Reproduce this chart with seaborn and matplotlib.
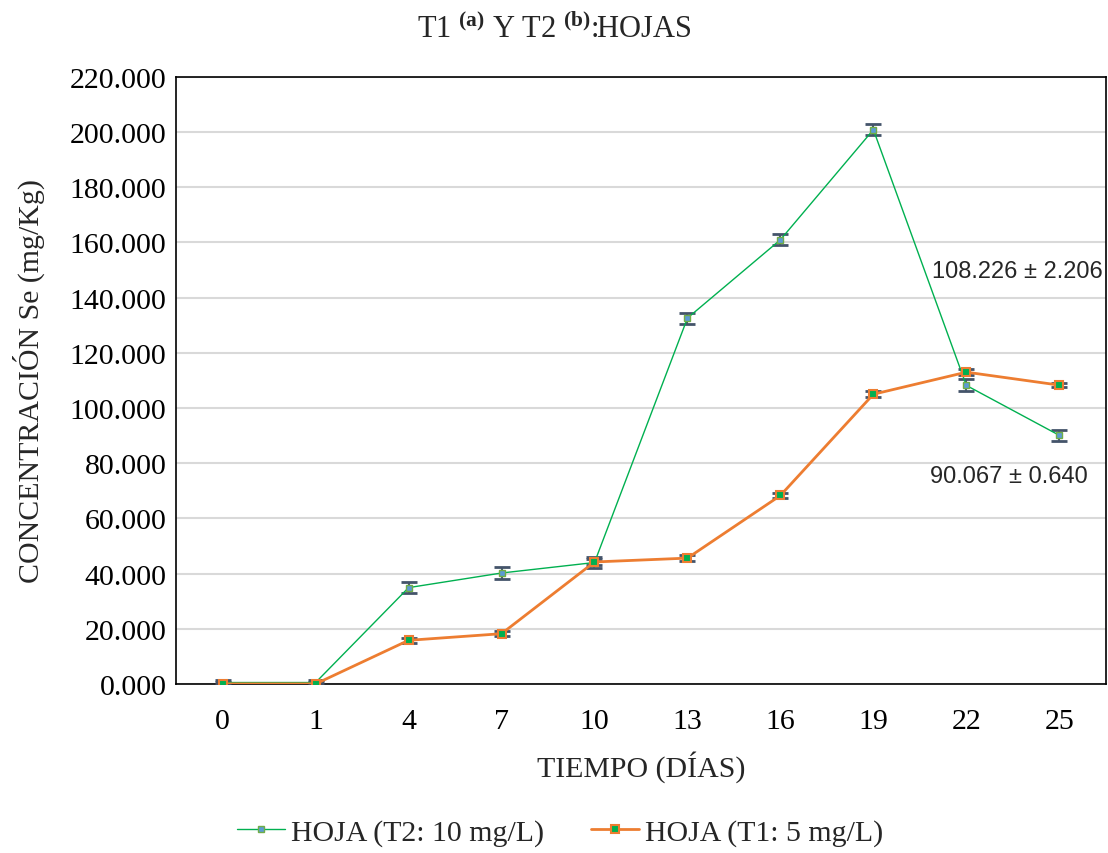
import matplotlib
matplotlib.use("Agg")
import matplotlib.pyplot as plt
import seaborn as sns
import pandas as pd
import numpy as np
from matplotlib.ticker import FuncFormatter, MultipleLocator

days = ["0", "1", "4", "7", "10", "13", "16", "19", "22", "25"]
t2_values = [0.5, 0.5, 34.9, 40.2, 44.0, 132.6, 161.0, 200.9, 108.2, 90.1]
t2_err = [1.0, 1.0, 2.0, 2.0, 2.0, 2.0, 2.0, 2.0, 2.2, 2.0]
t1_values = [0.0, 0.0, 15.8, 18.2, 44.2, 45.6, 68.3, 105.0, 113.0, 108.3]
t1_err = [0.6, 0.6, 1.0, 1.0, 1.0, 1.0, 1.0, 1.0, 1.2, 0.8]
label_t2 = "HOJA (T2: 10 mg/L)"
label_t1 = "HOJA (T1: 5 mg/L)"
annot_1 = "108.226 ± 2.206"
annot_2 = "90.067 ± 0.640"

sns.set_theme(style="white")
plt.rcParams["font.family"] = ["Liberation Serif", "DejaVu Serif"]
plt.rcParams["mathtext.fontset"] = "custom"
plt.rcParams["mathtext.rm"] = "Liberation Serif"
plt.rcParams["mathtext.bf"] = "Liberation Serif:bold"

df = pd.DataFrame({
    "day": days * 2,
    "value": t2_values + t1_values,
    "series": [label_t2] * len(days) + [label_t1] * len(days),
})

fig = plt.figure(figsize=(11.08, 8.54), dpi=100)
ax = fig.add_axes([0.159, 0.198, 0.839, 0.7107])

green = "#00B050"
orange = "#ED7D31"
errc = "#44546A"

x = np.arange(len(days))
ax.errorbar(x, t2_values, yerr=t2_err, fmt="none", ecolor=errc, elinewidth=1.5,
            capsize=6, capthick=2, zorder=3)
ax.errorbar(x, t1_values, yerr=t1_err, fmt="none", ecolor=errc, elinewidth=1.5,
            capsize=6, capthick=2, zorder=3)

sns.lineplot(data=df[df.series == label_t2], x="day", y="value", ax=ax, sort=False,
             color=green, linewidth=1.0, marker="s", markersize=5,
             markerfacecolor="#5B9BD5", markeredgecolor="#70AD47", markeredgewidth=1,
             label=label_t2, zorder=4)
sns.lineplot(data=df[df.series == label_t1], x="day", y="value", ax=ax, sort=False,
             color=orange, linewidth=2.0, marker="s", markersize=6,
             markerfacecolor="#00B050", markeredgecolor=orange, markeredgewidth=1.5,
             label=label_t1, zorder=4)

ax.set_xlim(-0.5, len(days) - 0.5)
ax.set_ylim(0, 220)
ax.yaxis.set_major_locator(MultipleLocator(20))
ax.yaxis.set_major_formatter(FuncFormatter(lambda v, p: f"{v:.3f}"))
ax.grid(axis="y", color="#D9D9D9", linewidth=1.5)
ax.set_axisbelow(True)
for s in ax.spines.values():
    s.set_color("black")
    s.set_linewidth(1.2)
ax.tick_params(axis="both", labelsize=21.5, length=0, colors="black")
ax.tick_params(axis="y", pad=7)
ax.tick_params(axis="x", pad=17)
ax.set_xlabel("TIEMPO (DÍAS)", fontsize=21.5, labelpad=12)
ax.set_ylabel("CONCENTRACIÓN Se (mg/Kg)", fontsize=21.5, labelpad=18)

fig.text(0.5, 0.966, r"T1 $^{\mathbf{(a)}}$ Y T2 $^{\mathbf{(b)}}$:HOJAS",
         ha="center", va="center", fontsize=22)

ax.text(7.63, 149.5, annot_1, family="Liberation Sans", fontsize=17, va="center", ha="left", clip_on=False)
ax.text(7.61, 75.5, annot_2, family="Liberation Sans", fontsize=17, va="center", ha="left")

leg = ax.legend(loc="upper center", bbox_to_anchor=(0.413, -0.178), ncol=2, frameon=False,
                fontsize=21.5, handlelength=1.6, columnspacing=1.6, handletextpad=0.2)

fig.savefig("out.png", dpi=100)
